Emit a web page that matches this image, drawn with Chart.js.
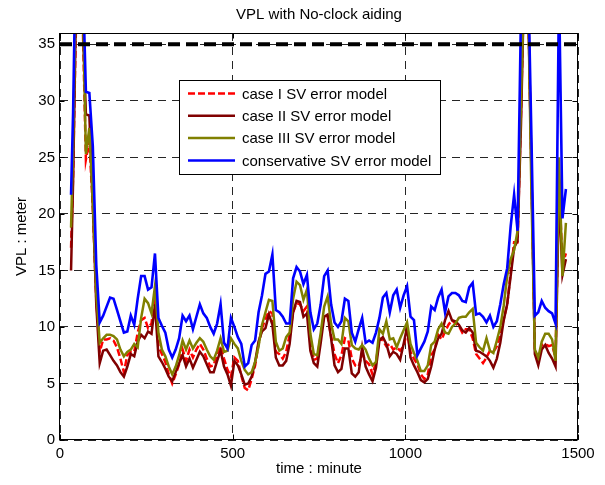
<!DOCTYPE html>
<html>
<head>
<meta charset="utf-8">
<script src="https://cdn.jsdelivr.net/npm/chart.js@4/dist/chart.umd.min.js"></script>
<style>
  html, body { margin: 0; padding: 0; background: #fff; }
</style>
</head>
<body>
<canvas id="myChart" width="605" height="485"></canvas>
<script>
// time axis (minutes), shared by all four series
var minutes = [32, 38, 45, 55, 65, 75, 85, 95, 105, 115,
  125, 135, 145, 155, 165, 175, 185, 195, 205, 215,
  225, 235, 245, 255, 265, 275, 285, 295, 305, 315,
  325, 335, 345, 355, 365, 375, 385, 395, 405, 415,
  425, 435, 445, 455, 465, 475, 485, 495, 505, 515,
  525, 535, 545, 555, 565, 575, 585, 595, 605, 615,
  625, 635, 645, 655, 665, 675, 685, 695, 705, 715,
  725, 735, 745, 755, 765, 775, 785, 795, 805, 815,
  825, 835, 845, 855, 865, 875, 885, 895, 905, 915,
  925, 935, 945, 955, 965, 975, 985, 995, 1005, 1015,
  1025, 1035, 1045, 1055, 1065, 1075, 1085, 1095, 1105, 1115,
  1125, 1135, 1145, 1155, 1165, 1175, 1185, 1195, 1205, 1215,
  1225, 1235, 1245, 1255, 1265, 1275, 1285, 1295, 1305, 1315,
  1325, 1335, 1345, 1355, 1365, 1375, 1385, 1395, 1405, 1415,
  1425, 1435, 1445, 1455, 1465];

// VPL (meter) per series
var caseOne = [17.0, 23.5, 35, 45, 38, 24.8, 26.5, 20.5, 12.5, 7.8,
  8.9, 8.9, 9.0, 8.8, 8.2, 7.2, 6.0, 7.5, 7.8, 7.8,
  9.5, 10.6, 10.8, 9.9, 10.3, 13.0, 8.3, 7.6, 6.9, 5.8,
  5.0, 5.8, 6.7, 8.0, 7.0, 8.0, 7.3, 8.0, 8.5, 8.0,
  7.2, 6.5, 6.6, 7.6, 8.3, 7.2, 6.2, 5.6, 7.3, 7.0,
  5.7, 4.6, 4.4, 5.4, 6.6, 8.5, 9.9, 10.7, 11.4, 11.2,
  7.8, 7.6, 7.2, 7.8, 9.3, 11.3, 12.1, 12.0, 11.4, 11.8,
  8.9, 7.1, 7.2, 9.3, 11.1, 10.9, 9.2, 7.6, 6.8, 7.5,
  9.0, 8.8, 7.2, 6.6, 6.5, 7.6, 7.0, 6.7, 5.8, 6.9,
  9.0, 8.8, 8.3, 8.5, 8.0, 8.2, 7.9, 8.3, 9.6, 7.8,
  7.2, 6.7, 5.8, 5.4, 5.8, 7.5, 8.0, 9.3, 8.9, 9.6,
  10.2, 10.6, 10.3, 10.1, 9.5, 9.8, 9.8, 9.0, 7.6, 7.2,
  6.8, 7.3, 7.9, 7.8, 8.3, 9.4, 10.7, 12.0, 14.8, 17.5,
  17.5, 29, 42, 40, 24, 8.0, 7.0, 8.4, 8.5, 8.3,
  8.4, 7.3, 23, 15.5, 16.5];

var caseTwo = [15.0, 23.0, 36, 45, 38, 28.8, 28.7, 21, 12, 6.8,
  7.9, 8.0, 7.5, 7.0, 6.6, 6.0, 5.6, 6.5, 7.6, 7.4,
  8.7, 9.3, 9.0, 9.6, 9.4, 12.0, 7.4, 6.9, 6.3, 5.6,
  5.2, 6.0, 6.8, 7.5, 6.5, 7.2, 6.4, 7.1, 7.8, 7.4,
  6.7, 6.0, 6.0, 7.0, 7.9, 6.5, 5.8, 4.8, 7.0, 6.6,
  5.8, 4.9, 5.0, 5.6, 6.9, 8.7, 9.6, 9.9, 11.1, 10.2,
  7.3, 6.6, 6.6, 7.0, 8.5, 11.3, 12.3, 12.2, 10.9, 11.2,
  7.9, 6.8, 6.5, 8.6, 10.9, 11.1, 9.0, 6.6, 6.0, 6.3,
  8.1, 8.1, 5.9, 5.6, 6.0, 8.2, 6.5, 5.8, 5.2, 6.4,
  8.8, 9.1, 8.5, 7.4, 7.8, 7.6, 7.1, 8.5, 10.0, 7.3,
  6.6, 6.0, 5.3, 5.1, 5.4, 6.5, 8.0, 9.0, 9.4, 10.6,
  11.4, 10.6, 10.5, 10.2, 9.7, 9.5, 9.9, 9.5, 7.9, 7.8,
  7.6, 7.4, 7.0, 6.4, 7.2, 8.6, 10.6, 12.0, 14.5, 17.0,
  17.6, 28, 42, 40, 24, 7.6, 6.6, 8.0, 8.4, 7.7,
  7.2, 6.5, 22, 14.6, 16.0];

var caseThree = [18.8, 26.0, 38, 45, 40, 25.3, 27.6, 21, 13, 8.6,
  9.0, 9.3, 9.3, 9.2, 8.9, 8.0, 7.4, 7.8, 8.0, 8.5,
  8.2, 10.8, 12.5, 12.1, 11.2, 13.6, 9.5, 8.0, 7.4, 6.5,
  5.8, 6.5, 7.5, 8.8, 8.0, 8.8, 8.1, 8.6, 9.0, 8.7,
  8.0, 7.4, 7.1, 7.9, 9.0, 7.8, 7.9, 9.0, 8.5, 8.1,
  7.0, 6.2, 5.8, 6.0, 6.9, 8.3, 10.2, 11.3, 12.4, 12.3,
  8.7, 7.9, 8.1, 9.1, 9.5, 12.5, 14.0, 13.7, 12.4, 13.3,
  9.4, 7.6, 7.5, 9.5, 11.8, 12.7, 10.3, 8.9, 8.9, 8.5,
  10.8, 10.5, 8.4, 8.1, 8.0, 8.4, 8.0, 7.2, 6.6, 6.9,
  9.8, 9.4, 10.5, 8.9, 9.0, 8.2, 9.0, 9.7, 10.4, 8.5,
  7.7, 7.0, 6.1, 6.1, 6.6, 8.4, 8.7, 9.8, 10.3, 9.5,
  9.4, 10.0, 10.3, 10.8, 10.9, 10.9, 11.3, 11.6, 8.6, 8.2,
  7.9, 9.0, 7.9, 7.7, 8.8, 10.0, 11.9, 14.5, 16.0, 16.8,
  18.5, 30, 42, 40, 22, 8.0, 7.3, 8.7, 9.4, 9.4,
  8.9, 7.0, 25, 14.5, 19.2];

var conservative = [21.7, 29.0, 42, 45, 42, 30.8, 30.7, 26, 15.5, 10.4,
  11.0, 11.8, 12.6, 12.5, 11.5, 10.5, 9.5, 9.6, 11.0, 10.2,
  12.5, 14.5, 14.5, 13.3, 13.5, 16.5, 10.8, 10.1, 9.5, 8.0,
  7.3, 8.0, 9.0, 11.0, 10.5, 11.0, 9.8, 10.9, 12.0, 11.2,
  10.8, 10.0, 9.4, 10.3, 12.0, 8.6, 8.1, 10.8, 10.0, 9.1,
  8.5, 6.5, 6.8, 8.4, 8.8, 11.3, 12.8, 14.7, 14.9, 16.4,
  11.5, 11.3, 10.9, 10.3, 10.3, 14.3, 15.3, 14.9, 13.8, 14.6,
  11.3, 9.8, 10.3, 12.0, 14.5, 15.0, 12.0, 10.4, 10.0, 10.5,
  12.5, 12.3, 9.5, 8.7, 9.8, 10.8, 8.6, 8.8, 8.6, 9.5,
  10.8, 12.6, 13.0, 11.3, 12.8, 13.3, 11.7, 12.8, 13.6, 10.9,
  10.6, 7.5, 8.1, 8.7, 9.6, 11.8, 11.5, 12.6, 13.3, 11.3,
  12.7, 13.0, 13.0, 12.8, 12.3, 12.2, 13.5, 13.9, 11.1, 11.2,
  10.9, 10.4, 11.0, 10.0, 10.5, 12.0, 13.8, 15.2, 18.9, 21.7,
  18.5, 38, 45, 42, 27, 11.0, 11.3, 12.3, 11.7, 11.4,
  11.2, 10.3, 40, 19.6, 22.2];

var vplLimit = 35;
var seriesNames = ["case I SV error model", "case II SV error model",
  "case III SV error model", "conservative SV error model"];
var seriesColors = ["#ff0000", "#800000", "#808000", "#0000ff"];
var chartTitle = "VPL with No-clock aiding";

var fontFam = "Arial, 'Liberation Sans', Helvetica, sans-serif";

function pts(ys) {
  return minutes.map(function (m, i) { return { x: m, y: ys[i] }; });
}

// box, inner ticks, title and legend drawn the matlab way
var framePlugin = {
  id: "frame",
  afterDraw: function (chart) {
    var ctx = chart.ctx, a = chart.chartArea;
    var xs = chart.scales.x, ys = chart.scales.y;
    var l = Math.round(a.left) - 0.5, r = Math.round(a.right) - 0.5;
    var t = Math.round(a.top) + 0.5, b = Math.round(a.bottom) - 0.5;
    ctx.save();
    ctx.strokeStyle = "#000";
    ctx.lineWidth = 1;
    ctx.setLineDash([]);
    ctx.strokeRect(l, t, r - l, b - t);
    ctx.beginPath();
    xs.ticks.forEach(function (tk) {
      var px = Math.round(xs.getPixelForValue(tk.value)) + 0.5;
      ctx.moveTo(px, b); ctx.lineTo(px, b - 5);
      ctx.moveTo(px, t); ctx.lineTo(px, t + 5);
    });
    ys.ticks.forEach(function (tk) {
      var py = Math.round(ys.getPixelForValue(tk.value)) + 0.5;
      ctx.moveTo(l, py); ctx.lineTo(l + 5, py);
      ctx.moveTo(r, py); ctx.lineTo(r - 5, py);
    });
    ctx.stroke();

    // title centred over the axes
    ctx.fillStyle = "#000";
    ctx.font = "15px " + fontFam;
    ctx.textAlign = "center";
    ctx.textBaseline = "middle";
    ctx.fillText(chartTitle, (a.left + a.right) / 2, 15);

    // legend
    var bx = 179.5, by = 80.5, bw = 261, bh = 94;
    ctx.fillStyle = "#fff";
    ctx.fillRect(bx, by, bw, bh);
    ctx.strokeRect(bx, by, bw, bh);
    ctx.textAlign = "left";
    for (var i = 0; i < seriesNames.length; i++) {
      var ry = 93.5 + i * 22.3;
      ctx.strokeStyle = seriesColors[i];
      ctx.lineWidth = 2.5;
      ctx.setLineDash(i === 0 ? [7, 3] : []);
      ctx.beginPath();
      ctx.moveTo(188, ry); ctx.lineTo(235, ry);
      ctx.stroke();
      ctx.fillStyle = "#000";
      ctx.fillText(seriesNames[i], 242, ry + 1);
    }
    ctx.restore();
  }
};

Chart.defaults.font.family = fontFam;
Chart.defaults.font.size = 15;
Chart.defaults.color = "#000";

new Chart("myChart", {
  type: "line",
  data: {
    datasets: [
      { data: pts(caseOne), borderColor: seriesColors[0], borderDash: [7, 3], borderWidth: 2.5, order: 4 },
      { data: pts(caseTwo), borderColor: seriesColors[1], borderWidth: 2.5, order: 3 },
      { data: pts(caseThree), borderColor: seriesColors[2], borderWidth: 2.5, order: 2 },
      { data: pts(conservative), borderColor: seriesColors[3], borderWidth: 2.6, order: 1 },
      { data: [{ x: 0, y: vplLimit }, { x: 1500, y: vplLimit }], borderColor: "#000",
        borderDash: [12, 6], borderWidth: 4, order: 0 }
    ]
  },
  options: {
    responsive: false,
    animation: false,
    devicePixelRatio: 1,
    clip: 0,
    elements: { point: { radius: 0 }, line: { tension: 0, fill: false } },
    layout: { padding: { left: 0, right: 27, top: 33, bottom: 0 } },
    plugins: {
      legend: { display: false },
      tooltip: { enabled: false },
      title: { display: false }
    },
    scales: {
      x: {
        type: "linear",
        min: 0, max: 1500,
        afterFit: function (s) { s.height = 45; },
        ticks: {
          stepSize: 500, padding: 5, maxRotation: 0, includeBounds: false,
          callback: function (v) { return String(v); }
        },
        grid: { color: "rgba(0,0,0,0.85)", lineWidth: 1, drawTicks: false },
        border: { display: false, dash: [8, 6] },
        title: { display: true, text: "time : minute", padding: { top: 0, bottom: 7 } }
      },
      y: {
        type: "linear",
        min: 0, max: 36,
        afterFit: function (s) { s.width = 60; },
        ticks: {
          stepSize: 5, padding: 5, includeBounds: false,
          callback: function (v) { return String(v); }
        },
        grid: { color: "rgba(0,0,0,0.85)", lineWidth: 1, drawTicks: false },
        border: { display: false, dash: [8, 6] },
        title: { display: true, text: "VPL : meter", padding: { top: 13, bottom: 0 } }
      }
    }
  },
  plugins: [framePlugin]
});
</script>
</body>
</html>
